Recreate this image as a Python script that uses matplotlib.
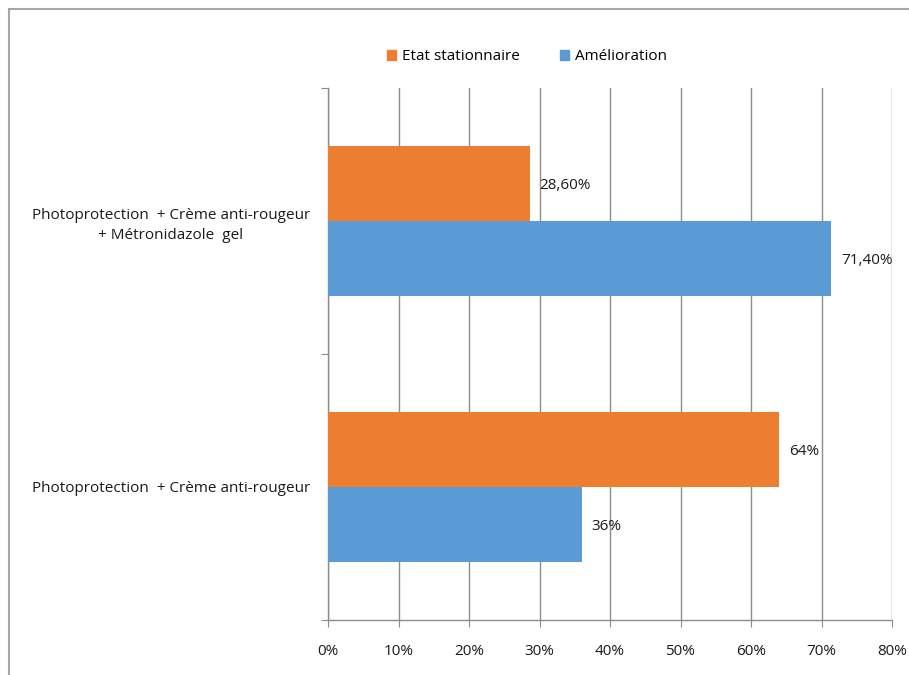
import matplotlib.pyplot as plt
from matplotlib.patches import Rectangle
import numpy as np

plt.rcParams['font.family'] = ['Open Sans', 'DejaVu Sans']

categories = ['Photoprotection  + Crème anti-rougeur',
              'Photoprotection  + Crème anti-rougeur\n+ Métronidazole  gel']
stationnaire = [64, 28.6]
amelioration = [36, 71.4]
xticks = [0, 10, 20, 30, 40, 50, 60, 70, 80]

orange = '#ED7D31'
blue = '#5B9BD5'
grey = '#8c8c8c'
txt = '#1a1a1a'
fs = 11


def fmt(v):
    if float(v).is_integer():
        return '%d%%' % v
    return ('%.2f' % v).replace('.', ',') + '%'


fig = plt.figure(figsize=(9.09, 6.75), dpi=100)
ax = fig.add_axes([328 / 909, 1 - 620 / 675, 564 / 909, 532 / 675])

y = np.arange(len(categories))
h = 0.282
b1 = ax.barh(y + h / 2, stationnaire, height=h, color=orange, label='Etat stationnaire', zorder=3)
b2 = ax.barh(y - h / 2, amelioration, height=h, color=blue, label='Amélioration', zorder=3)

for bars, vals in ((b1, stationnaire), (b2, amelioration)):
    for bar, v in zip(bars, vals):
        ax.annotate(fmt(v), (v, bar.get_y() + bar.get_height() / 2),
                    xytext=(7, -1.5), textcoords='offset points',
                    va='center', ha='left', fontsize=fs, color=txt)

ax.set_xlim(0, 80)
ax.set_ylim(-0.5, 1.5)
ax.set_xticks(xticks)
ax.set_xticklabels(['%d%%' % t for t in xticks], fontsize=fs, color=txt)
ax.xaxis.grid(True, color=grey, lw=1.0, zorder=0)
ax.set_yticks([-0.5, 0.5, 1.5])
ax.set_yticklabels([])
ax.set_yticks(y, minor=True)
ax.set_yticklabels(categories, minor=True, fontsize=fs, color=txt,
                   ha='right', multialignment='center', linespacing=1.45)
ax.tick_params(axis='y', which='minor', length=0, pad=13)
ax.tick_params(axis='y', which='major', length=5, color=grey, direction='out')
ax.tick_params(axis='x', length=5, color=grey, direction='out', pad=12)

for s in ['top', 'right']:
    ax.spines[s].set_visible(False)
for s in ['left', 'bottom']:
    ax.spines[s].set_color(grey)
    ax.spines[s].set_linewidth(1.0)

h1 = Rectangle((0, 0), 1, 1, color=orange)
h2 = Rectangle((0, 0), 1, 1, color=blue)
fig.legend([h1, h2], ['Etat stationnaire', 'Amélioration'], loc='center',
           bbox_to_anchor=(527 / 909, 1 - 57 / 675), ncol=2, frameon=False,
           fontsize=fs, handlelength=0.6, handleheight=0.6, handletextpad=0.4,
           columnspacing=2.6)

fig.patches.append(Rectangle((9 / 909, -0.1), 1.2, 1.1 - 9 / 675, transform=fig.transFigure,
                             fill=False, edgecolor='#a6a6a6', lw=1.5))

fig.savefig('out.png', dpi=100)
